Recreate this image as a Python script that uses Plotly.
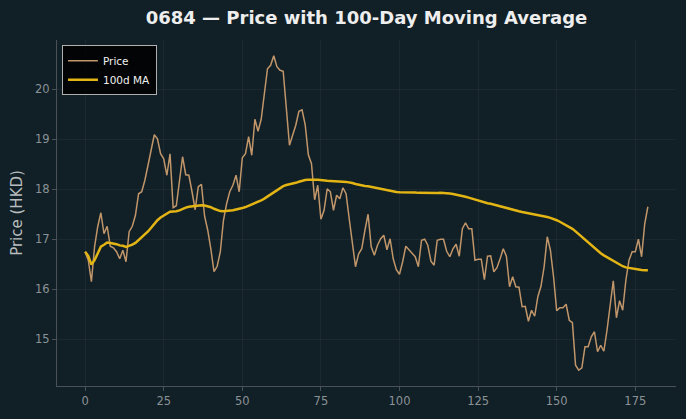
import plotly.graph_objects as go
import pandas as pd

days = list(range(180))
price = [
    16.75, 16.58, 16.15, 16.85, 17.25, 17.53, 17.11, 17.26, 16.86, 16.83,
    16.75, 16.61, 16.78, 16.55, 17.15, 17.26, 17.48, 17.91, 17.95, 18.18,
    18.48, 18.78, 19.09, 19.01, 18.71, 18.61, 18.28, 18.71, 17.63, 17.67,
    18.15, 18.65, 18.29, 18.28, 17.95, 17.59, 18.05, 18.10, 17.46, 17.18,
    16.80, 16.35, 16.46, 16.75, 17.38, 17.71, 17.95, 18.08, 18.28, 17.95,
    18.63, 18.71, 19.05, 18.68, 19.40, 19.16, 19.40, 19.95, 20.41, 20.48,
    20.67, 20.45, 20.38, 20.36, 19.58, 18.88, 19.08, 19.28, 19.56, 19.59,
    19.29, 18.69, 18.51, 17.79, 18.08, 17.40, 17.58, 18.01, 17.95, 17.58,
    17.88, 17.81, 18.03, 17.91, 17.41, 16.91, 16.45, 16.71, 16.81, 17.18,
    17.50, 16.85, 16.68, 16.88, 17.01, 17.08, 16.79, 17.01, 16.61, 16.39,
    16.30, 16.55, 16.86, 16.79, 16.73, 16.65, 16.45, 16.98, 17.00, 16.88,
    16.56, 16.48, 16.98, 17.00, 17.00, 16.76, 16.65, 16.81, 16.90, 16.66,
    17.21, 17.33, 17.21, 17.21, 16.58, 16.60, 16.60, 16.19, 16.66, 16.67,
    16.35, 16.43, 16.61, 16.81, 16.66, 16.05, 16.25, 16.05, 16.04, 15.65,
    15.66, 15.36, 15.58, 15.46, 15.85, 16.06, 16.45, 17.05, 16.78, 16.25,
    15.57, 15.63, 15.63, 15.70, 15.38, 15.33, 14.48, 14.38, 14.43, 14.85,
    14.85, 15.05, 15.15, 14.75, 14.88, 14.76, 15.18, 15.65, 16.17, 15.43,
    15.77, 15.58, 16.18, 16.58, 16.75, 16.75, 17.00, 16.65, 17.31, 17.65,
]
ma_window = 100
ma = pd.Series(price).rolling(ma_window, min_periods=1).mean().tolist()

x_ticks = [0, 25, 50, 75, 100, 125, 150, 175]
y_ticks = [15, 16, 17, 18, 19, 20]

BG = "#111f26"
AXIS = "#4a5257"
TICKTXT = "#8b9296"
GRID = "rgba(255,255,255,0.045)"

fig = go.Figure()
fig.add_trace(go.Scatter(
    x=days, y=price, mode="lines", name="Price",
    line=dict(color="#c0966a", width=1.5),
))
fig.add_trace(go.Scatter(
    x=days, y=ma, mode="lines", name="100d MA",
    line=dict(color="#e3b514", width=2.5),
))

fig.update_layout(
    width=686, height=419,
    paper_bgcolor=BG, plot_bgcolor=BG,
    margin=dict(l=57, r=10, t=40, b=33),
    font=dict(family="DejaVu Sans", color=TICKTXT, size=11),
    title=dict(
        text="<b>0684 — Price with 100-Day Moving Average</b>",
        x=0.5, xref="paper", xanchor="center",
        y=1 - 18 / 419, yref="container", yanchor="middle",
        font=dict(family="DejaVu Sans", size=18, color="#eeeeee"),
    ),
    showlegend=True,
    legend=dict(
        x=0.008, y=0.985, xanchor="left", yanchor="top",
        bgcolor="rgba(0,0,0,0.85)", bordercolor="#b0b0b0", borderwidth=1,
        font=dict(family="DejaVu Sans", size=10.5, color="#f0f0f0"),
        tracegroupgap=0, itemwidth=30,
    ),
)
fig.update_xaxes(
    range=[-8.95, 187.95], tickvals=x_ticks, ticktext=[str(t) for t in x_ticks],
    showgrid=True, gridcolor=GRID, zeroline=False,
    showline=True, linecolor=AXIS, linewidth=1,
    ticks="outside", ticklen=4, tickcolor=AXIS,
    tickfont=dict(size=11.5, color=TICKTXT),
)
fig.update_yaxes(
    range=[14.065, 20.985], tickvals=y_ticks, ticktext=[str(t) for t in y_ticks],
    showgrid=True, gridcolor=GRID, zeroline=False,
    showline=True, linecolor=AXIS, linewidth=1,
    ticks="outside", ticklen=4, tickcolor=AXIS,
    tickfont=dict(size=11.5, color=TICKTXT),
    title=dict(text="Price (HKD)", font=dict(size=15, color="#b8bcbe"), standoff=8),
)

fig.write_html("out.html")
